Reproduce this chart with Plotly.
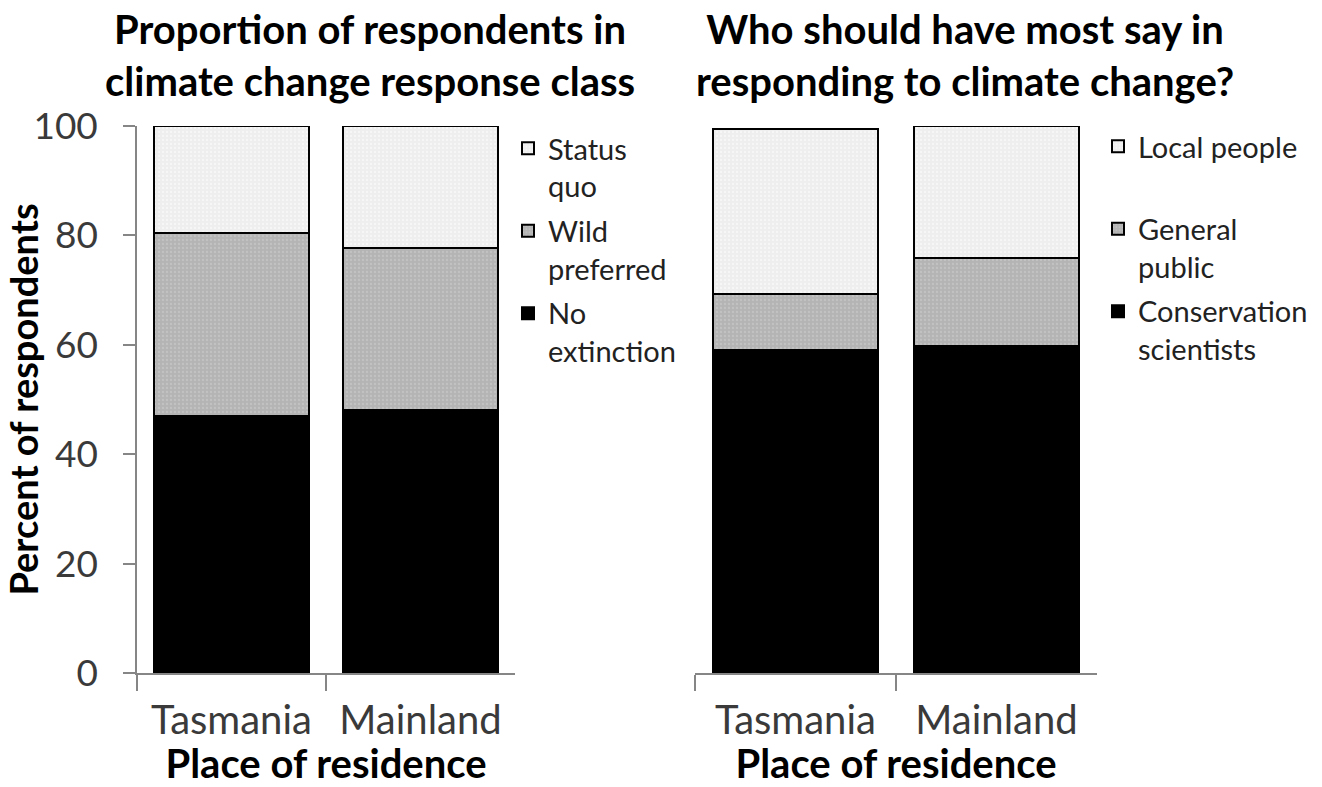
import plotly.graph_objects as go

places = ["Tasmania", "Mainland"]

# Left panel: climate change response class (percent, stacked)
no_extinction = [47.0, 48.1]
wild_preferred = [33.4, 29.6]
status_quo = [19.6, 22.3]

# Right panel: who should have most say (percent, stacked)
conservation_scientists = [59.0, 59.8]
general_public = [10.3, 16.1]
local_people = [30.2, 24.1]

FONT = "Lato"
W, H = 1322, 787

BLACK = "#000000"
GRAY = "#b4b4b4"
LIGHT = "#eeeeee"


def px_x(p):
    return p / W


def px_y(p):
    return 1 - p / H


fig = go.Figure()


def add_bar(x, y, name, color, dotcolor, xa, ya, legend, group, rank):
    fig.add_trace(go.Bar(
        x=x, y=y, name=name, xaxis=xa, yaxis=ya, legend=legend, legendgroup=group,
        legendrank=rank,
        marker=dict(color=color, line=dict(color="#000000", width=2),
                    pattern=dict(shape="." if dotcolor else "", fgcolor=dotcolor or color,
                                 bgcolor=color, size=4, solidity=0.25)),
        hoverinfo="x+y+name",
    ))


add_bar(places, no_extinction, "No<br>extinction", BLACK, None, "x", "y", "legend", "a1", 3)
add_bar(places, wild_preferred, "Wild<br>preferred", GRAY, "#cfcfcf", "x", "y", "legend", "a2", 2)
add_bar(places, status_quo, "Status<br>quo", LIGHT, "#ffffff", "x", "y", "legend", "a3", 1)

add_bar(places, conservation_scientists, "Conservation<br>scientists", BLACK, None, "x2", "y2", "legend2", "b1", 3)
add_bar(places, general_public, "General<br>public", GRAY, "#cfcfcf", "x2", "y2", "legend2", "b2", 2)
add_bar(places, local_people, "Local people<br> ", LIGHT, "#ffffff", "x2", "y2", "legend2", "b3", 1)

axis_gray = "#868686"
tickfont = dict(family=FONT, size=37, color="#3a3a3a")
catfont = dict(family=FONT, size=40, color="#3a3a3a")
xtitlefont = dict(family=FONT, size=40, color="#000000", weight="bold")
ytitlefont = dict(family=FONT, size=38, color="#000000", weight="bold")

ydom = [px_y(673), px_y(126)]

xaxis_common = dict(
    type="category", showline=True, linecolor=axis_gray, linewidth=1.5,
    ticks="outside", tickson="boundaries", ticklen=16, tickcolor=axis_gray, tickwidth=1.5,
    showgrid=False, zeroline=False, tickfont=catfont, automargin=False,
    ticklabelstandoff=11,
    title=dict(text="Place of residence", font=xtitlefont, standoff=10),
)

legend_common = dict(xanchor="left", yanchor="top", traceorder="grouped",
                     valign="top", tracegroupgap=4,
                     font=dict(family=FONT, size=29, color="#222222"),
                     bgcolor="rgba(0,0,0,0)")

fig.update_layout(
    width=W, height=H,
    margin=dict(l=0, r=0, t=0, b=0, autoexpand=False),
    paper_bgcolor="white", plot_bgcolor="white",
    barmode="stack",
    font=dict(family=FONT, color="#000000"),
    xaxis=dict(domain=[px_x(137), px_x(515)], anchor="y", **xaxis_common),
    xaxis2=dict(domain=[px_x(695), px_x(1097)], anchor="y2", **xaxis_common),
    yaxis=dict(domain=ydom, anchor="x", range=[0, 100], dtick=20, showline=True,
               linecolor=axis_gray, linewidth=1.5, ticks="outside", ticklen=12,
               tickcolor=axis_gray, tickwidth=1.5, showgrid=False, zeroline=False,
               tickfont=tickfont, ticklabelstandoff=18, automargin=False,
               title=dict(text="Percent of respondents", font=ytitlefont, standoff=6)),
    yaxis2=dict(domain=ydom, anchor="x2", range=[0, 100], visible=False),
    legend=dict(x=px_x(508), y=px_y(123), **legend_common),
    legend2=dict(x=px_x(1098), y=px_y(121), **legend_common),
    bargap=0.175,
    showlegend=True,
)

fig.add_annotation(text="Proportion of respondents in<br>climate change response class",
                   x=px_x(370), y=px_y(55), xref="paper", yref="paper",
                   showarrow=False, xanchor="center", yanchor="middle",
                   font=dict(family=FONT, size=40, color="#000000", weight="bold"))
fig.add_annotation(text="Who should have most say in<br>responding to climate change?",
                   x=px_x(965), y=px_y(55), xref="paper", yref="paper",
                   showarrow=False, xanchor="center", yanchor="middle",
                   font=dict(family=FONT, size=40, color="#000000", weight="bold"))

fig.write_html("out.html")
